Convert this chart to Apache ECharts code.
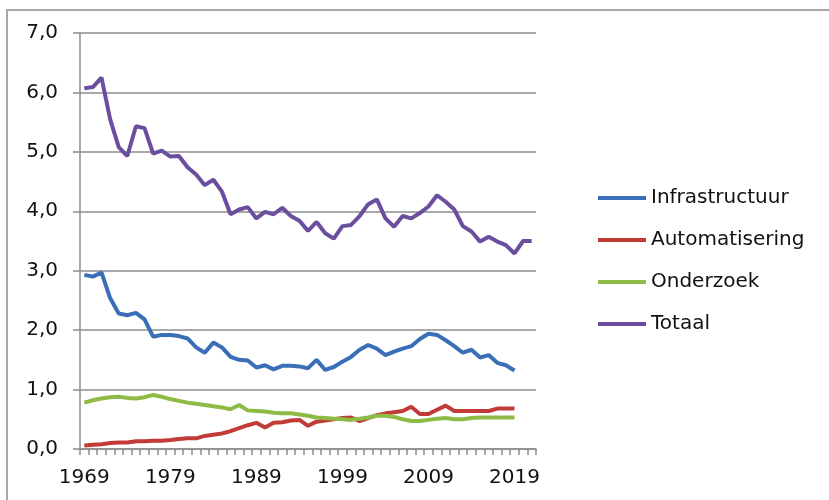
<!DOCTYPE html>
<html>
<head>
<meta charset="utf-8">
<script src="https://cdn.jsdelivr.net/npm/echarts@6/dist/echarts.min.js"></script>
<style>
html,body{margin:0;padding:0;background:#fff;}
#chart{width:829px;height:500px;}
</style>
</head>
<body>
<div id="chart"></div>
<script>
// Years 1969..2021
var years = [];
for (var y = 1969; y <= 2021; y++) { years.push(String(y)); }

var infrastructuur = [2.93,2.90,2.97,2.54,2.28,2.25,2.29,2.18,1.89,1.92,1.92,1.90,1.86,1.71,1.62,1.79,1.71,1.55,1.50,1.49,1.37,1.41,1.34,1.40,1.40,1.39,1.36,1.50,1.33,1.38,1.47,1.55,1.67,1.75,1.69,1.58,1.64,1.69,1.73,1.85,1.94,1.92,1.83,1.73,1.62,1.67,1.54,1.58,1.45,1.41,1.32];
var automatisering = [0.06,0.07,0.08,0.10,0.11,0.11,0.13,0.13,0.14,0.14,0.15,0.17,0.18,0.18,0.22,0.24,0.26,0.30,0.35,0.40,0.44,0.36,0.44,0.45,0.48,0.49,0.39,0.46,0.48,0.50,0.52,0.53,0.47,0.52,0.57,0.60,0.62,0.64,0.71,0.59,0.59,0.66,0.73,0.64,0.64,0.64,0.64,0.64,0.68,0.68,0.68];
var onderzoek = [0.78,0.82,0.85,0.87,0.88,0.86,0.85,0.87,0.91,0.88,0.84,0.81,0.78,0.76,0.74,0.72,0.70,0.67,0.74,0.65,0.64,0.63,0.61,0.60,0.60,0.58,0.56,0.53,0.52,0.51,0.50,0.49,0.51,0.53,0.56,0.56,0.54,0.50,0.47,0.47,0.49,0.51,0.52,0.50,0.50,0.52,0.53,0.53,0.53,0.53,0.53];
var totaal = [6.07,6.09,6.25,5.55,5.08,4.93,5.43,5.40,4.97,5.02,4.92,4.93,4.74,4.62,4.44,4.53,4.33,3.95,4.03,4.07,3.88,3.99,3.95,4.06,3.92,3.84,3.67,3.82,3.63,3.54,3.75,3.77,3.92,4.12,4.20,3.88,3.74,3.92,3.88,3.97,4.08,4.27,4.16,4.03,3.75,3.66,3.49,3.57,3.49,3.43,3.29,3.50,3.50];

var seriesNames = ['Infrastructuur','Automatisering','Onderzoek','Totaal'];
var seriesColors = ['#3A6FB7','#C23B36','#8DBB45','#6B4F9E'];
var seriesData = [infrastructuur, automatisering, onderzoek, totaal];

var font = 'DejaVu Sans';
var chart = echarts.init(document.getElementById('chart'), null, {renderer:'canvas'});
var series = seriesNames.map(function(n, i){
  return {
    name: n, type: 'line', data: seriesData[i], symbol: 'none', smooth: false,
    lineStyle: {width: 4, color: seriesColors[i]}, itemStyle: {color: seriesColors[i]},
    z: i === 3 ? 3 : 2
  };
});

chart.setOption({
  backgroundColor: '#ffffff',
  animation: false,
  grid: {left: 80, top: 33, width: 456, height: 416, containLabel: false},
  graphic: [{
    type: 'polyline', silent: true,
    shape: {points: [[7, 500], [7, 10], [829, 10]]},
    style: {stroke: '#a8a8a8', lineWidth: 2, fill: null}
  }],
  legend: {
    orient: 'vertical', left: 593, top: 183,
    icon: 'rect', itemWidth: 48, itemHeight: 4, itemGap: 22,
    textStyle: {fontFamily: font, fontSize: 20, color: '#111'},
    data: seriesNames
  },
  xAxis: {
    type: 'category', data: years, boundaryGap: true,
    axisLine: {show: true, lineStyle: {color: '#8c8c8c', width: 1.5}},
    axisTick: {show: true, interval: 0, length: 6, lineStyle: {color: '#8c8c8c', width: 1.5}},
    axisLabel: {interval: 9, margin: 19, fontFamily: font, fontSize: 20, color: '#111'},
    splitLine: {show: false}
  },
  yAxis: {
    type: 'value', min: 0, max: 7, interval: 1,
    axisLine: {show: true, lineStyle: {color: '#8c8c8c', width: 1.5}},
    axisTick: {show: true, length: 7, lineStyle: {color: '#8c8c8c', width: 1.5}},
    axisLabel: {margin: 22, fontFamily: font, fontSize: 20, color: '#111',
      formatter: function(v){ return v.toFixed(1).replace('.', ','); }},
    splitLine: {show: true, lineStyle: {color: '#8c8c8c', width: 1.5}}
  },
  series: series
});
</script>
</body>
</html>
